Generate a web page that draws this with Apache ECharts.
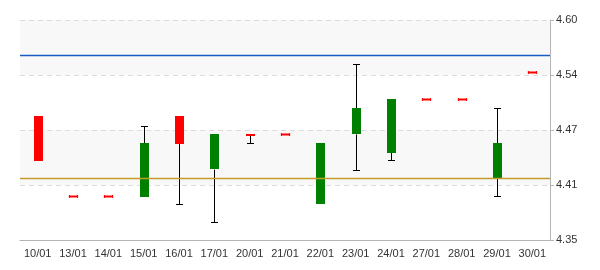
<!DOCTYPE html>
<html>
<head>
<meta charset="utf-8">
<script src="https://cdn.jsdelivr.net/npm/echarts@6/dist/echarts.min.js"></script>
<style>html,body{margin:0;padding:0;background:#fff}#c{width:600px;height:270px}</style>
</head>
<body>
<div id="c"></div>
<script>
var categories = ['10/01','13/01','14/01','15/01','16/01','17/01','20/01','21/01','22/01','23/01','24/01','27/01','28/01','29/01','30/01'];
var openValues  = [4.491, 4.400, 4.400, 4.399, 4.491, 4.430, 4.471, 4.470, 4.391, 4.470, 4.449, 4.510, 4.510, 4.420, 4.541];
var closeValues = [4.440, 4.400, 4.400, 4.460, 4.459, 4.470, 4.469, 4.470, 4.460, 4.500, 4.510, 4.510, 4.510, 4.460, 4.541];
var lowValues   = [4.440, 4.400, 4.400, 4.399, 4.391, 4.371, 4.460, 4.470, 4.391, 4.430, 4.441, 4.510, 4.510, 4.400, 4.541];
var highValues  = [4.491, 4.400, 4.400, 4.480, 4.491, 4.470, 4.471, 4.470, 4.460, 4.550, 4.510, 4.510, 4.510, 4.500, 4.541];
var upperLevel = 4.5563;
var lowerLevel = 4.4165;
var yMin = 4.35, yMax = 4.60, yInterval = 0.0625;

var data = categories.map(function (c, i) {
  return [i, openValues[i], closeValues[i], lowValues[i], highValues[i]];
});

function renderItem(params, api) {
  var idx = api.value(0);
  var o = api.value(1), c = api.value(2), lo = api.value(3), hi = api.value(4);
  var pO = api.coord([idx, o]);
  var pC = api.coord([idx, c]);
  var pL = api.coord([idx, lo]);
  var pH = api.coord([idx, hi]);
  var bw = api.size([1, 0])[0] * 0.26;
  var x = Math.round(pO[0]);
  var up = c > o;
  var color = up ? '#008000' : '#ff0000';
  var top = Math.min(pO[1], pC[1]);
  var bot = Math.max(pO[1], pC[1]);
  var children = [];
  var capW = 3.5;
  var xl = x + 0.5;
  if (pH[1] < top - 0.5) {
    children.push({type: 'line', shape: {x1: xl, y1: Math.round(pH[1]) + 0.5, x2: xl, y2: top}, style: {stroke: '#000', lineWidth: 1}});
    children.push({type: 'line', shape: {x1: xl - capW, y1: Math.round(pH[1]) + 0.5, x2: xl + capW, y2: Math.round(pH[1]) + 0.5}, style: {stroke: '#000', lineWidth: 1}});
  }
  if (pL[1] > bot + 0.5) {
    children.push({type: 'line', shape: {x1: xl, y1: bot, x2: xl, y2: Math.round(pL[1]) + 0.5}, style: {stroke: '#000', lineWidth: 1}});
    children.push({type: 'line', shape: {x1: xl - capW, y1: Math.round(pL[1]) + 0.5, x2: xl + capW, y2: Math.round(pL[1]) + 0.5}, style: {stroke: '#000', lineWidth: 1}});
  }
  var h = bot - top;
  if (h < 1.5) {
    var yy = Math.round(top) + 0.5;
    children.push({type: 'line', shape: {x1: xl - bw / 2, y1: yy, x2: xl + bw / 2, y2: yy}, style: {stroke: color, lineWidth: 2}});
    children.push({type: 'line', shape: {x1: xl - bw / 2 + 0.5, y1: yy - 1.5, x2: xl - bw / 2 + 0.5, y2: yy + 1.5}, style: {stroke: color, lineWidth: 1}});
    children.push({type: 'line', shape: {x1: xl + bw / 2 - 0.5, y1: yy - 1.5, x2: xl + bw / 2 - 0.5, y2: yy + 1.5}, style: {stroke: color, lineWidth: 1}});
  } else {
    children.push({type: 'rect', shape: {x: Math.round(x - bw / 2 + 0.5), y: Math.round(top), width: Math.round(bw), height: Math.round(h)}, style: {fill: color}});
  }
  return {type: 'group', children: children};
}

var chart = echarts.init(document.getElementById('c'), null, {renderer: 'canvas'});
chart.setOption({
  animation: false,
  backgroundColor: '#ffffff',
  grid: {left: 20, right: 50, top: 20, bottom: 30, containLabel: false},
  xAxis: {
    type: 'category',
    data: categories,
    boundaryGap: true,
    axisLine: {lineStyle: {color: '#b4b4b4', width: 1}},
    axisTick: {alignWithLabel: true, length: 4, lineStyle: {color: '#b4b4b4'}},
    axisLabel: {color: '#333', fontFamily: 'Liberation Sans', fontSize: 11, margin: 8, interval: 0},
    splitLine: {show: false}
  },
  yAxis: {
    type: 'value',
    position: 'right',
    min: yMin,
    max: yMax,
    interval: yInterval,
    axisLine: {show: true, lineStyle: {color: '#b4b4b4', width: 1}},
    axisTick: {show: true, length: 4, lineStyle: {color: '#b4b4b4'}},
    axisLabel: {color: '#333', fontFamily: 'Liberation Sans', fontSize: 11, margin: 6,
      formatter: function (v) { return v.toFixed(2); }},
    splitLine: {show: true, lineStyle: {color: '#dcdcdc', type: [5, 4], width: 1}},
    splitArea: {show: true, areaStyle: {color: ['rgba(255,255,255,0)', '#f8f8f8']}}
  },
  series: [{
    type: 'custom',
    renderItem: renderItem,
    data: data,
    encode: {x: 0, y: [1, 2, 3, 4]},
    clip: true,
    z: 3
  }, {
    type: 'line',
    data: [],
    silent: true,
    z: 2,
    markLine: {
      silent: true,
      symbol: ['none', 'none'],
      label: {show: false},
      emphasis: {disabled: true},
      data: [
        {yAxis: upperLevel, lineStyle: {color: '#1a5cc4', width: 1.3, type: 'solid', opacity: 1}},
        {yAxis: lowerLevel, lineStyle: {color: '#c49a28', width: 1.3, type: 'solid', opacity: 1}}
      ]
    }
  }]
});
</script>
</body>
</html>
